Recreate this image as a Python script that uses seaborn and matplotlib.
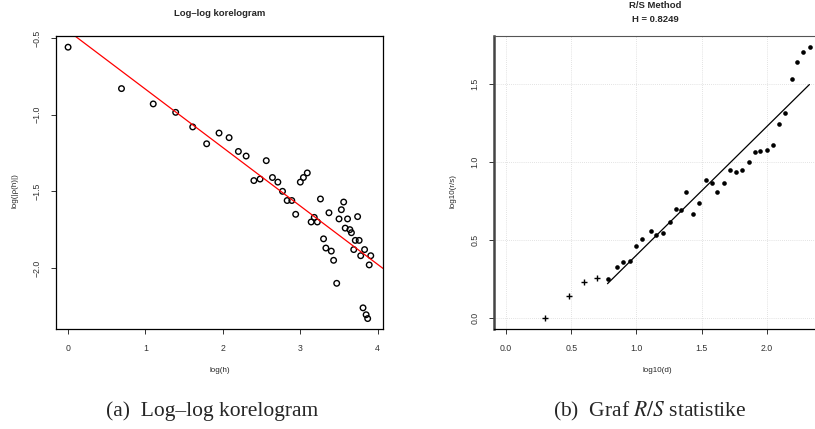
import numpy as np
import pandas as pd
import matplotlib
matplotlib.use("Agg")
import matplotlib.pyplot as plt
import seaborn as sns

# left panel: log-log correlogram
log_h = [0.0, 0.69, 1.10, 1.39, 1.61, 1.79, 1.95, 2.08, 2.20, 2.30,
         2.40, 2.48, 2.56, 2.64, 2.71, 2.77, 2.83, 2.89, 2.94, 3.00,
         3.04, 3.09, 3.14, 3.18, 3.22, 3.26, 3.30, 3.33, 3.37, 3.40,
         3.43, 3.47, 3.50, 3.53, 3.56, 3.58, 3.61, 3.64, 3.66, 3.69,
         3.71, 3.74, 3.76, 3.78, 3.81, 3.83, 3.85, 3.87, 3.89, 3.91]
log_rho = [-0.56, -0.83, -0.93, -0.985, -1.08, -1.19, -1.12, -1.15, -1.24, -1.27,
           -1.43, -1.42, -1.30, -1.41, -1.44, -1.50, -1.56, -1.56, -1.65, -1.44,
           -1.41, -1.38, -1.70, -1.67, -1.70, -1.55, -1.81, -1.87, -1.64, -1.89,
           -1.95, -2.10, -1.68, -1.62, -1.57, -1.74, -1.68, -1.75, -1.77, -1.88,
           -1.82, -1.665, -1.82, -1.92, -2.26, -1.88, -2.305, -2.33, -1.98, -1.92]
corr_fit = (-0.453, -0.381)  # intercept, slope

# right panel: R/S statistic
rs_excl_x = [0.30, 0.48, 0.60, 0.70]
rs_excl_y = [0.0, 0.145, 0.233, 0.256]
rs_x = [0.78, 0.85, 0.90, 0.95, 1.00, 1.04, 1.11, 1.15, 1.20, 1.26, 1.30,
        1.34, 1.38, 1.43, 1.48, 1.53, 1.58, 1.62, 1.67, 1.72, 1.76, 1.81,
        1.86, 1.91, 1.95, 2.00, 2.05, 2.09, 2.14, 2.19, 2.23, 2.28, 2.33]
rs_y = [0.254, 0.325, 0.363, 0.369, 0.463, 0.51, 0.56, 0.53, 0.549, 0.615, 0.699,
        0.694, 0.81, 0.667, 0.739, 0.887, 0.867, 0.807, 0.867, 0.951, 0.94, 0.951,
        1.0, 1.064, 1.07, 1.081, 1.107, 1.244, 1.316, 1.532, 1.643, 1.707, 1.739]
rs_fit_range = [0.778, 2.326]
rs_intercept = -0.421
hurst = 0.8249

sns.set_style("ticks")
plt.rcParams['font.family'] = ['Liberation Sans', 'DejaVu Sans']
plt.rcParams['mathtext.fontset'] = 'stix'

fig = plt.figure(figsize=(8.15, 4.29), dpi=100)
W, H = 815.0, 429.0

def ax_at(x0, y0, x1, y1):
    return fig.add_axes([x0 / W, 1 - y1 / H, (x1 - x0) / W, (y1 - y0) / H])

tick_fs = 6.3
lab_fs = 5.8

# ---------------- left panel ----------------
ax1 = ax_at(56, 36, 383, 329)
corr = pd.DataFrame({"log_h": log_h, "log_rho": log_rho})
sns.scatterplot(data=corr, x="log_h", y="log_rho", ax=ax1, marker="o",
                s=16, facecolor="none", edgecolor="black", linewidth=1.0)
ax1.axline((0, corr_fit[0]), slope=corr_fit[1], color="red", lw=0.9)
ax1.set_xlim(-0.156, 4.068)
ax1.set_ylim(-2.398, -0.487)
ax1.set_xticks([0, 1, 2, 3, 4])
ax1.set_xticklabels(["0", "1", "2", "3", "4"])
ax1.set_yticks([-2.0, -1.5, -1.0, -0.5])
ax1.set_yticklabels(["\u22122.0", "\u22121.5", "\u22121.0", "\u22120.5"],
                    rotation=90, va="center")
ax1.set_xlabel("")
ax1.set_ylabel("")
for sp in ax1.spines.values():
    sp.set_color("black")
    sp.set_linewidth(0.9)
ax1.tick_params(length=3.5, width=0.7, labelsize=tick_fs, colors="#333333", pad=7)
fig.text(219.5 / W, 1 - 13 / H, "Log\u2013log korelogram", ha="center",
         va="center", fontsize=6.8, fontweight="bold")
fig.text(219.5 / W, 1 - 370 / H, "log(h)", ha="center", va="center", fontsize=lab_fs)
fig.text(15 / W, 1 - 191 / H, "log(|\u03c1(h)|)", ha="center", va="center",
         fontsize=lab_fs, rotation=90)

# ---------------- right panel ----------------
ax2 = ax_at(494, 36, 818, 329)
ax2.grid(True, color="#d9d9d9", linestyle=(0, (1, 1.5)), linewidth=0.6)
ax2.set_axisbelow(True)
sns.scatterplot(x=rs_excl_x, y=rs_excl_y, ax=ax2, marker="+", s=22,
                color="black", linewidth=1.0)
sns.scatterplot(x=rs_x, y=rs_y, ax=ax2, marker="o", s=11, color="black",
                edgecolor="black", linewidth=0)
fit_y = [rs_intercept + hurst * v for v in rs_fit_range]
sns.lineplot(x=rs_fit_range, y=fit_y, ax=ax2, color="black", lw=0.9)
ax2.set_xlim(-0.092, 2.392)
ax2.set_ylim(-0.0696, 1.809)
ax2.set_xticks([0.0, 0.5, 1.0, 1.5, 2.0])
ax2.set_xticklabels(["0.0", "0.5", "1.0", "1.5", "2.0"])
ax2.set_yticks([0.0, 0.5, 1.0, 1.5])
ax2.set_yticklabels(["0.0", "0.5", "1.0", "1.5"], rotation=90, va="center")
ax2.set_xlabel("")
ax2.set_ylabel("")
ax2.spines["right"].set_visible(False)
ax2.spines["top"].set_color("#555555")
ax2.spines["top"].set_linewidth(0.8)
ax2.spines["left"].set_color("#444444")
ax2.spines["left"].set_linewidth(1.8)
ax2.spines["bottom"].set_color("black")
ax2.spines["bottom"].set_linewidth(0.9)
ax2.tick_params(length=3.5, width=0.7, labelsize=tick_fs, colors="#333333", pad=7)
fig.text(655 / W, 1 - 6 / H, "R/S Method", ha="center", va="center",
         fontsize=6.8, fontweight="bold")
fig.text(655 / W, 1 - 20 / H, "H = 0.8249", ha="center", va="center",
         fontsize=6.8, fontweight="bold")
fig.text(657 / W, 1 - 370 / H, "log10(d)", ha="center", va="center", fontsize=lab_fs)
fig.text(453 / W, 1 - 191 / H, "log10(r/s)", ha="center", va="center",
         fontsize=lab_fs, rotation=90)

# ---------------- captions ----------------
fig.text(212 / W, 1 - 411 / H, "(a)  Log\u2013log korelogram", ha="center",
         va="center", fontsize=15.5, family="Liberation Serif")
fig.text(650 / W, 1 - 411 / H, "(b)  Graf $R/S$ statistike", ha="center",
         va="center", fontsize=15.5, family="Liberation Serif")

fig.savefig("out.png", dpi=100)
